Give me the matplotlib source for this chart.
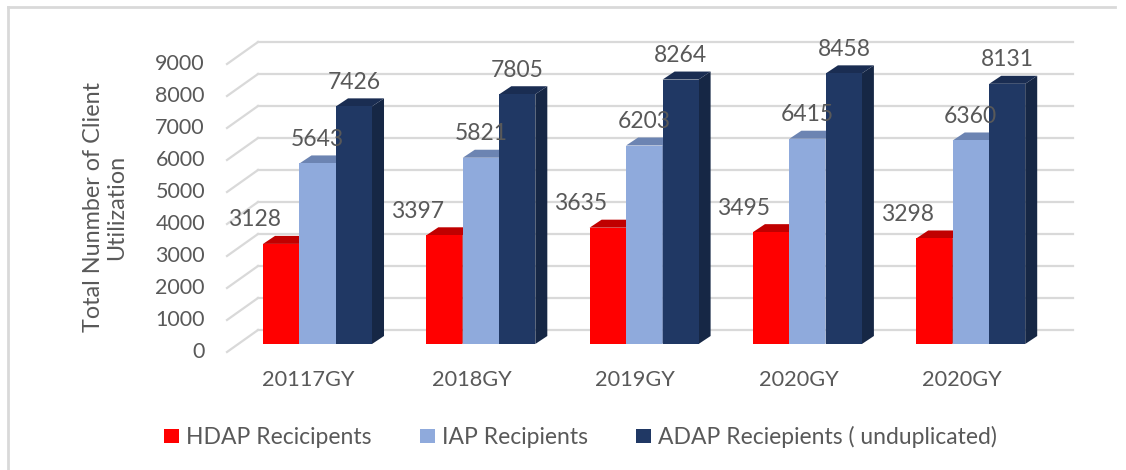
import matplotlib.pyplot as plt
from matplotlib.patches import Polygon, Patch
from matplotlib.lines import Line2D

# Data
categories = ["20117GY", "2018GY", "2019GY", "2020GY", "2020GY"]
hdap = [3128, 3397, 3635, 3495, 3298]
iap = [5643, 5821, 6203, 6415, 6360]
adap = [7426, 7805, 8264, 8458, 8131]
series_names = ["HDAP Recicipents", "IAP Recipients", "ADAP Reciepients ( unduplicated)"]
y_ticks = list(range(0, 10000, 1000))

# front / top / side colours for each series
front = ["#FF0000", "#8FAADC", "#203864"]
top = ["#C00000", "#6C84B2", "#1A2D52"]
side = ["#B00000", "#6C84B2", "#162745"]

plt.rcParams["font.family"] = ["Lato", "DejaVu Sans"]
text_color = "#595959"
grid_color = "#D9D9D9"

fig = plt.figure(figsize=(11.26, 4.70), dpi=100)
ax = fig.add_axes([0, 0, 1, 1])
ax.set_xlim(-1.9443, 4.9510)
ax.set_ylim(-3937.5, 10750)
ax.axis("off")

# 3D-ish geometry (in data units)
back_dy = 437.5     # back wall offset
front_dy = -250     # front edge of side wall
back_x0, back_x1 = -0.3644, 4.6264
front_x = -0.5542
width = 0.2205
offsets = [-0.2235, 0.0, 0.2235]
dx, dy = 0.0735, 250

# back wall gridlines and side wall diagonals
for v in y_ticks:
    ax.plot([back_x0, back_x1], [v + back_dy, v + back_dy], color=grid_color, lw=1.6, zorder=1)
    ax.plot([front_x, back_x0], [v + front_dy, v + back_dy], color=grid_color, lw=1.6, zorder=1)
    ax.text(-0.689, v + front_dy, str(v), ha="right", va="center", fontsize=15.5, color=text_color)

# bars
series = [hdap, iap, adap]
for s, vals in enumerate(series):
    for i, v in enumerate(vals):
        xc = i + offsets[s]
        xl, xr = xc - width / 2, xc + width / 2
        z = 2 + s
        ax.add_patch(Polygon([(xr, 0), (xr + dx, dy), (xr + dx, v + dy), (xr, v)],
                             closed=True, facecolor=side[s], edgecolor="none", zorder=z))
        ax.add_patch(Polygon([(xl, v), (xr, v), (xr + dx, v + dy), (xl + dx, v + dy)],
                             closed=True, facecolor=top[s], edgecolor="none", zorder=z))
        ax.bar(xc, v, width=width, color=front[s], zorder=z + 0.1)
        lx = xc - 0.165 if s == 0 else xc
        ax.text(lx, v + 750, str(v), ha="center", va="center", fontsize=16.5,
                color=text_color, zorder=10)

# category labels
for i, c in enumerate(categories):
    ax.text(i - 0.055, -1125, c, ha="center", va="center", fontsize=15.7, color=text_color)

# y axis title
fig.text(0.0933, 0.5596, "Total Nunmber of Client\nUtilization", rotation=90,
         ha="center", va="center", fontsize=16.8, color=text_color, linespacing=1.15)

# legend
handles = [Patch(facecolor=front[k], edgecolor="none") for k in range(3)]
fig.legend(handles, series_names, loc="center", bbox_to_anchor=(0.5155, 0.070), ncol=3,
           frameon=False, fontsize=16.5, handlelength=0.65, handleheight=0.52,
           handletextpad=0.3, columnspacing=2.1, labelcolor=text_color,
           borderpad=0, borderaxespad=0)

# chart frame (top and left edges)
fig.add_artist(Line2D([8 / 1126, 1115 / 1126], [1 - 7 / 470, 1 - 7 / 470],
                      transform=fig.transFigure, color=grid_color, lw=2))
fig.add_artist(Line2D([8 / 1126, 8 / 1126], [1 - 7 / 470, 0],
                      transform=fig.transFigure, color=grid_color, lw=2))

plt.savefig("out.png", dpi=100, facecolor="white")
